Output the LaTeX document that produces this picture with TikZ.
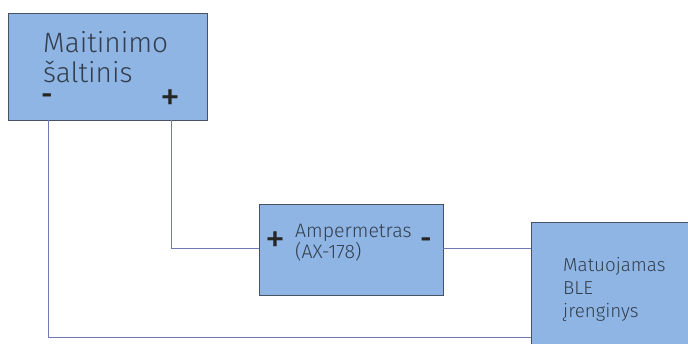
\documentclass[tikz,border=0pt]{standalone}
\usepackage{fontspec}
\setmainfont{Fira Sans}[UprightFont={* Light}, BoldFont={* Medium}]
\newfontfamily\signfont{Fira Sans}
\definecolor{boxfill}{RGB}{142,181,227}
\definecolor{boxline}{RGB}{72,82,100}
\definecolor{wirecol}{RGB}{112,122,178}
\definecolor{txt}{RGB}{52,62,78}
\begin{document}
\begin{tikzpicture}[x=1pt,y=1pt,
  box/.style={draw=boxline, fill=boxfill, line width=1pt, rectangle,
    inner sep=0pt, anchor=north west},
  wire/.style={draw=wirecol, line width=0.9pt},
  lbl/.style={text=txt, inner sep=0pt, anchor=base west},
  big/.style={font=\fontsize{28}{30}\selectfont},
  mid/.style={font=\fontsize{19.5}{20}\selectfont},
  sml/.style={font=\fontsize{18.8}{20}\selectfont},
  plus/.style={text=black!85, inner sep=0pt, anchor=center, font=\signfont\fontsize{40}{40}\selectfont},
  minus/.style={text=black!85, inner sep=0pt, anchor=center, font=\signfont\bfseries\fontsize{26}{26}\selectfont}]
\useasboundingbox (0,0) rectangle (688,-343);

% boxes
\node[box, minimum width=199, minimum height=107] (src) at (8,-13) {};
\node[box, minimum width=184, minimum height=91] (amp) at (259,-204) {};
\node[box, minimum width=160, minimum height=125] (dev) at (531,-222) {};

% wire end points
\coordinate (srcminus) at (48,-120);
\coordinate (srcplus) at (171,-120);
\coordinate (ampin) at (259,-248);
\coordinate (ampout) at (443,-248);
\coordinate (devin) at (531,-248);
\coordinate (devret) at (531,-337);

% wires
\draw[wire] (srcplus) |- (ampin);
\draw[wire] (ampout) -- (devin);
\draw[wire] (srcminus) |- (devret);

% power supply
\node[lbl, big] (src1) at (43,-52) {Maitinimo};
\node[lbl, big] (src2) at (43,-82) {šaltinis};
\node[minus] (srcm) at (47,-99) {-};
\node[plus] (srcp) at (170,-100) {+};

% ammeter
\node[lbl, mid] (amp1) at (295,-237) {Ampermetras};
\node[lbl, mid] (amp2) at (295,-258) {(AX-178)};
\node[plus] (ampp) at (275,-242) {+};
\node[minus] (ampm) at (426,-243) {-};

% device under test
\node[lbl, sml] (dev1) at (563,-271) {Matuojamas};
\node[lbl, sml] (dev2) at (563,-294) {BLE};
\node[lbl, sml] (dev3) at (563,-317) {įrenginys};
\end{tikzpicture}
\end{document}
